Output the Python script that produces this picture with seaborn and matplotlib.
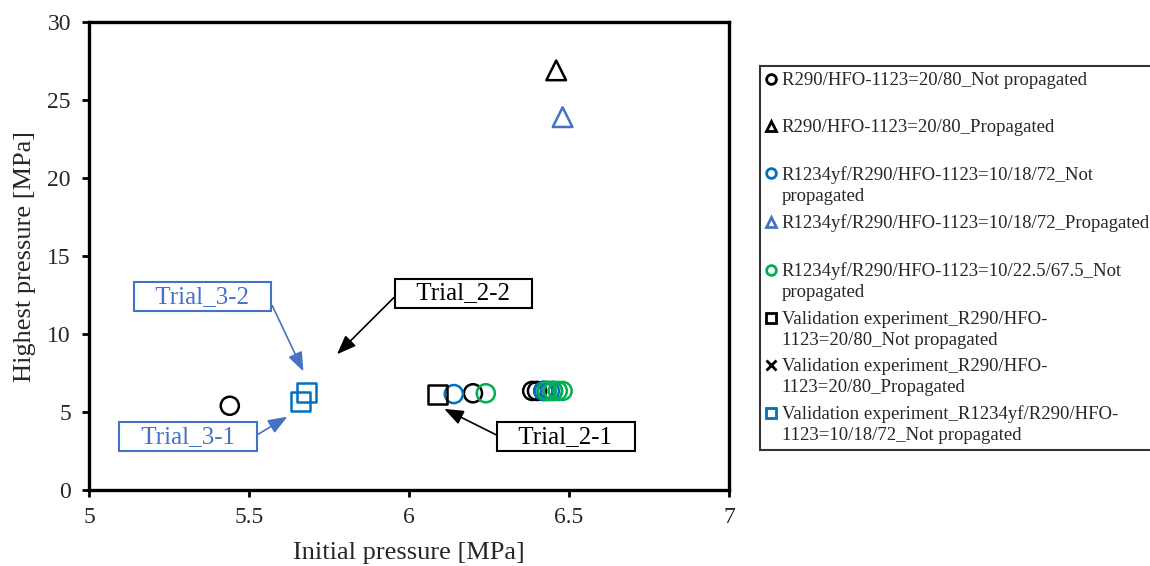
import matplotlib
matplotlib.use("Agg")
import matplotlib.pyplot as plt
import seaborn as sns
import pandas as pd
from matplotlib.lines import Line2D
from matplotlib.legend_handler import HandlerLine2D

# ---------------- data ----------------
r290_np_x = [5.44, 6.20, 6.385, 6.40, 6.42]
r290_np_y = [5.4, 6.2, 6.35, 6.35, 6.35]
r290_p_x = [6.46]
r290_p_y = [26.9]
m18_np_x = [6.14, 6.42, 6.43, 6.44, 6.45]
m18_np_y = [6.15, 6.35, 6.35, 6.35, 6.35]
m18_p_x = [6.48]
m18_p_y = [23.9]
m225_np_x = [6.24, 6.43, 6.45, 6.465, 6.48]
m225_np_y = [6.2, 6.35, 6.35, 6.35, 6.35]
val_r290_np_x = [6.09]
val_r290_np_y = [6.1]
val_r290_p_x = [5.74]
val_r290_p_y = [7.45]
val_m18_np_x = [5.66, 5.68]
val_m18_np_y = [5.65, 6.25]

x_ticks = [5, 5.5, 6, 6.5, 7]
x_tick_labels = ["5", "5.5", "6", "6.5", "7"]
y_ticks = [0, 5, 10, 15, 20, 25, 30]

labels = [
    "R290/HFO-1123=20/80_Not propagated\n ",
    "R290/HFO-1123=20/80_Propagated\n ",
    "R1234yf/R290/HFO-1123=10/18/72_Not\npropagated",
    "R1234yf/R290/HFO-1123=10/18/72_Propagated\n ",
    "R1234yf/R290/HFO-1123=10/22.5/67.5_Not\npropagated",
    "Validation experiment_R290/HFO-\n1123=20/80_Not propagated",
    "Validation experiment_R290/HFO-\n1123=20/80_Propagated",
    "Validation experiment_R1234yf/R290/HFO-\n1123=10/18/72_Not propagated",
]

BLACK = "#000000"
BLUE = "#0070C0"
BLUE2 = "#4472C4"
GREEN = "#00B050"

series = [
    (r290_np_x, r290_np_y, "o", BLACK, 170),
    (r290_p_x, r290_p_y, "^", BLACK, 200),
    (m18_np_x, m18_np_y, "o", BLUE, 170),
    (m18_p_x, m18_p_y, "^", BLUE2, 200),
    (m225_np_x, m225_np_y, "o", GREEN, 170),
    (val_r290_np_x, val_r290_np_y, "s", BLACK, 190),
    (val_r290_p_x, val_r290_p_y, "x", BLACK, 190),
    (val_m18_np_x, val_m18_np_y, "s", BLUE, 190),
]

sns.set_theme(style="white")
plt.rcParams["font.family"] = ["Liberation Serif", "DejaVu Serif"]
plt.rcParams["mathtext.fontset"] = "stix"

fig = plt.figure(figsize=(11.5, 5.66), dpi=100)
ax = fig.add_axes([89 / 1150, 1 - 490 / 566, (729 - 89) / 1150, (490 - 22) / 566])

for (xs, ys, mk, col, s) in series:
    df = pd.DataFrame({"x": xs, "y": ys})
    sns.scatterplot(data=df, x="x", y="y", ax=ax, marker=mk, s=s,
                    color=col, facecolor="none", edgecolor=col,
                    linewidth=1.8, legend=False, zorder=3)

ax.set_xlim(5, 7)
ax.set_ylim(0, 30)
ax.set_xticks(x_ticks)
ax.set_xticklabels(x_tick_labels)
ax.set_yticks(y_ticks)
ax.tick_params(axis="both", labelsize=17, length=5, width=2, direction="out",
               color="black", bottom=True, left=True)
ax.tick_params(axis="x", pad=7)
ax.tick_params(axis="y", pad=8)
for sp in ax.spines.values():
    sp.set_color("black")
    sp.set_linewidth(2.4)
ax.set_xlabel("Initial pressure [MPa]", fontsize=19, labelpad=10)
ax.set_ylabel("Highest pressure [MPa]", fontsize=19, labelpad=8)
ax.grid(False)

# annotations
def note(text, xy, xytext, col, relpos):
    ax.annotate(text, xy=xy, xytext=xytext, textcoords="data",
                fontsize=18, color=col, ha="center", va="center",
                bbox=dict(boxstyle="square,pad=0.14", fc="white", ec=col, lw=1.5),
                arrowprops=dict(arrowstyle="-|>,head_length=0.65,head_width=0.25",
                                color=col, lw=1.2, shrinkA=0, shrinkB=0,
                                relpos=relpos),
                zorder=4)

note("   Trial_2-2   ", (5.775, 8.7), (6.17, 12.6), BLACK, (0, 0.5))
note("   Trial_2-1   ", (6.11, 5.2), (6.49, 3.4), BLACK, (0, 0.5))
note("   Trial_3-2   ", (5.67, 7.6), (5.355, 12.4), BLUE2, (1, 0.5))
note("   Trial_3-1   ", (5.62, 4.7), (5.31, 3.4), BLUE2, (1, 0.5))

# legend
LEG_FS = 13.5


class TopHandler(HandlerLine2D):
    def create_artists(self, legend, orig_handle, xdescent, ydescent, width,
                       height, fontsize, trans):
        arts = super().create_artists(legend, orig_handle, xdescent, ydescent,
                                      width, height, fontsize, trans)
        for a in arts:
            a.set_ydata([v + 0.64 * fontsize for v in a.get_ydata()])
        return arts


handles = []
for (xs, ys, mk, col, s) in series:
    handles.append(Line2D([], [], linestyle="none", marker=mk, markersize=7,
                          markerfacecolor="none", markeredgecolor=col,
                          markeredgewidth=2))
leg = fig.legend(handles, labels, loc="upper left",
                 bbox_to_anchor=(760 / 1150, 1 - 66 / 566),
                 fontsize=LEG_FS, frameon=True, fancybox=False,
                 handlelength=0.6, handletextpad=0.25, labelspacing=0.5,
                 borderpad=0.3, borderaxespad=0,
                 handler_map={Line2D: TopHandler()})
for t in leg.get_texts():
    t.set_linespacing(1.3)
leg.get_frame().set_edgecolor("black")
leg.get_frame().set_linewidth(1.5)

fig.savefig("out.png", dpi=100)
